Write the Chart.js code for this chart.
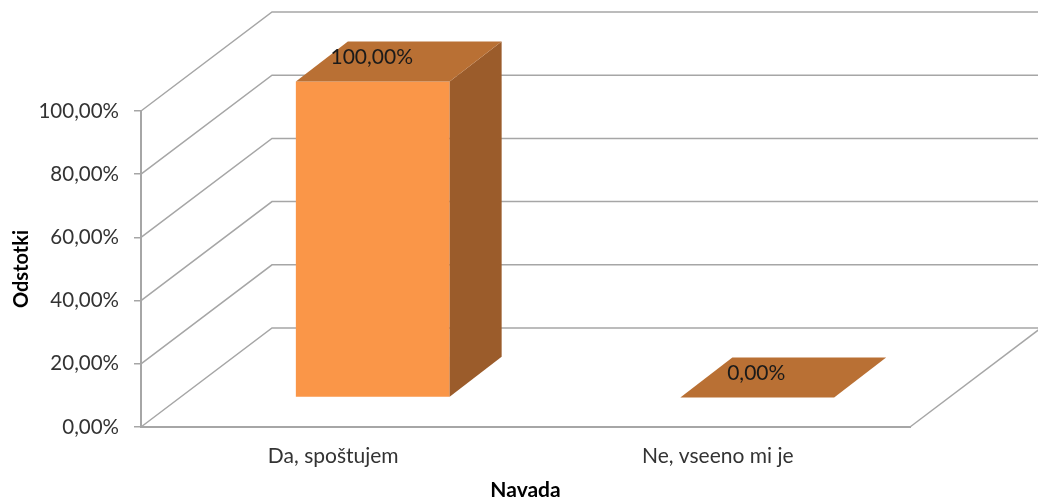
<!DOCTYPE html>
<html lang="sl">
<head>
  <meta charset="UTF-8">
  <title>Navada</title>
  <script src="https://cdn.jsdelivr.net/npm/chart.js"></script>
  <style>
    body { margin: 0; background: #fff; }
    canvas { display: block; }
  </style>
</head>
<body>
  <canvas id="chart" width="1038" height="503"></canvas>
  <script>
    const categories = ['Da, spoštujem', 'Ne, vseeno mi je'];
    const values = [100, 0];
    const valueLabels = ['100,00%', '0,00%'];
    const tickLabels = ['0,00%', '20,00%', '40,00%', '60,00%', '80,00%', '100,00%'];

    const FONT = 'Lato, Carlito, sans-serif';
    const GRID = '#a6a6a6';
    // depth of the box and how far the bars sit inside it
    const WALL = { x: 131, y: -99 };
    const INSET = { x: 39.5, y: -29.5 };
    const BAR = { x: 52, y: -40 };

    function poly(ctx, pts, fill) {
      ctx.beginPath();
      pts.forEach((p, i) => i ? ctx.lineTo(p[0], p[1]) : ctx.moveTo(p[0], p[1]));
      ctx.closePath();
      ctx.fillStyle = fill;
      ctx.fill();
    }

    const box3d = {
      id: 'box3d',
      beforeDatasetsDraw(chart) {
        const { ctx, scales, chartArea, width } = chart;
        ctx.save();
        ctx.strokeStyle = GRID;
        ctx.lineWidth = 1.5;
        scales.y.ticks.forEach(t => {
          const y = scales.y.getPixelForValue(t.value);
          ctx.beginPath();
          ctx.moveTo(chartArea.left, y);
          ctx.lineTo(chartArea.left + WALL.x, y + WALL.y);
          ctx.lineTo(width, y + WALL.y);
          ctx.stroke();
        });
        ctx.beginPath();
        ctx.moveTo(chartArea.right, chartArea.bottom);
        ctx.lineTo(chartArea.right + WALL.x, chartArea.bottom + WALL.y);
        ctx.stroke();
        ctx.restore();
      },
      beforeDatasetDraw(chart) {
        chart.ctx.save();
        chart.ctx.translate(INSET.x, INSET.y);
      },
      afterDatasetDraw(chart, args) {
        const ctx = chart.ctx;
        args.meta.data.forEach((el, i) => {
          const l = el.x - el.width / 2, r = el.x + el.width / 2;
          const top = el.y, bottom = el.base;
          if (bottom > top) {
            poly(ctx, [[r, top], [r + BAR.x, top + BAR.y], [r + BAR.x, bottom + BAR.y], [r, bottom]], '#9b5c2b');
          }
          poly(ctx, [[l, top], [r, top], [r + BAR.x, top + BAR.y], [l + BAR.x, top + BAR.y]], '#b97034');
          ctx.fillStyle = '#1a1a1a';
          ctx.font = '21px ' + FONT;
          ctx.textAlign = 'center';
          ctx.textBaseline = 'middle';
          ctx.fillText(valueLabels[i], el.x - 1, top - 24);
        });
        ctx.restore();
      }
    };

    new Chart(document.getElementById('chart'), {
      type: 'bar',
      data: {
        labels: categories,
        datasets: [{
          data: values,
          backgroundColor: '#fa9648',
          barPercentage: 0.4,
          categoryPercentage: 1,
          clip: false
        }]
      },
      options: {
        responsive: false,
        animation: false,
        layout: { padding: { top: 111, right: 128 } },
        plugins: { legend: { display: false }, tooltip: { enabled: false } },
        scales: {
          x: {
            grid: { display: false, drawTicks: false },
            border: { color: GRID, width: 2 },
            ticks: { color: '#333', font: { family: FONT, size: 21 }, padding: 17, maxRotation: 0 },
            title: {
              display: true,
              text: 'Navada',
              color: '#000',
              font: { family: FONT, size: 21, weight: 'bold' },
              padding: { top: 0, bottom: 0 }
            },
            afterFit(scale) { scale.height = 76; }
          },
          y: {
            min: 0,
            max: 100,
            afterBuildTicks(scale) { scale.ticks = tickLabels.map((_, i) => ({ value: i * 20 })); },
            grid: { drawOnChartArea: false, tickLength: 7, color: GRID, lineWidth: 1.5 },
            border: { color: GRID, width: 2 },
            ticks: {
              color: '#333',
              font: { family: FONT, size: 20.5 },
              padding: 15,
              callback: (v, i) => tickLabels[i]
            },
            title: {
              display: true,
              text: 'Odstotki',
              color: '#000',
              font: { family: FONT, size: 20, weight: 'bold' },
              padding: { top: 10, bottom: 0 }
            },
            afterFit(scale) { scale.width = 141; }
          }
        }
      },
      plugins: [box3d]
    });
  </script>
</body>
</html>
